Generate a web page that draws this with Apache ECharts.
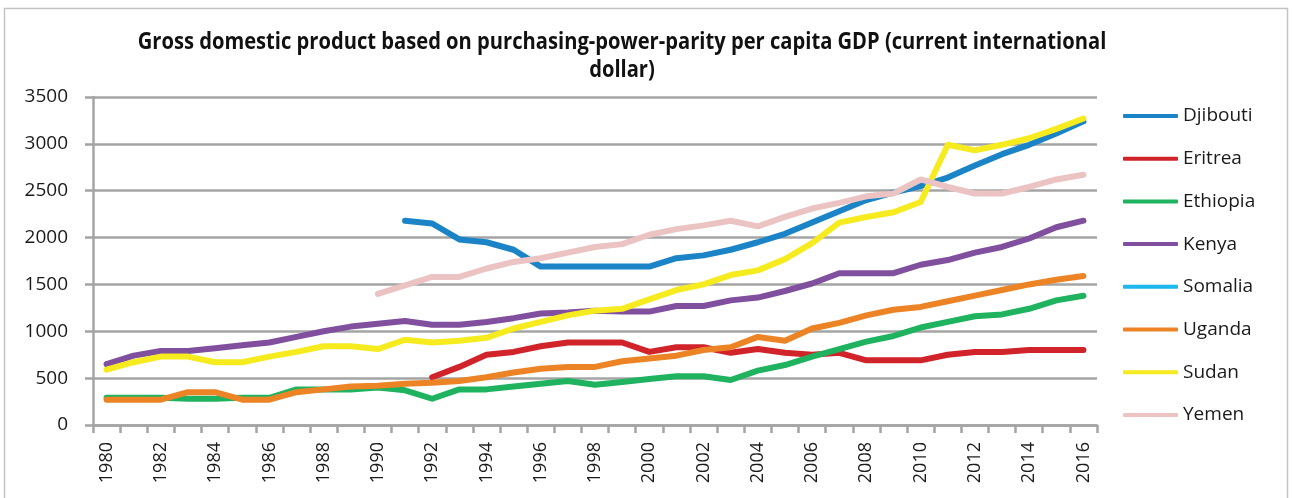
<!DOCTYPE html>
<html>
<head>
<meta charset="utf-8">
<script src="https://cdn.jsdelivr.net/npm/echarts@6/dist/echarts.min.js"></script>
<style>
html,body{margin:0;padding:0;background:#fff;}
#chart{width:1293px;height:498px;}
</style>
</head>
<body>
<div id="chart"></div>
<script>
var years = [];
for (var y = 1980; y <= 2016; y++) years.push(String(y));

var djibouti = [null,null,null,null,null,null,null,null,null,null,null,
  2180,2150,1980,1950,1870,1690,1690,1690,1690,1690,1780,1810,1870,1950,2040,2160,2280,2400,2480,2550,2640,2770,2890,2990,3110,3240];
var eritrea = [null,null,null,null,null,null,null,null,null,null,null,null,
  510,620,750,780,840,880,880,880,780,830,830,770,810,770,750,770,690,690,690,750,780,780,800,800,800];
var ethiopia = [290,290,290,280,280,290,290,380,380,380,400,370,280,380,380,410,440,470,430,460,490,520,520,480,580,640,730,810,890,950,1040,1100,1160,1180,1240,1330,1380];
var kenya = [650,740,790,790,820,850,880,940,1000,1050,1080,1110,1070,1070,1100,1140,1190,1200,1220,1210,1210,1270,1270,1330,1360,1430,1510,1620,1620,1620,1710,1760,1840,1900,1990,2110,2180];
var somalia = [];
var uganda = [270,270,270,350,350,270,270,350,380,410,420,440,450,470,510,560,600,620,620,680,710,740,800,830,940,900,1030,1090,1170,1230,1260,1320,1380,1440,1500,1550,1590];
var sudan = [590,670,730,730,670,670,730,780,840,840,810,910,880,900,930,1030,1100,1170,1220,1240,1340,1440,1500,1600,1650,1770,1940,2160,2220,2270,2380,2990,2930,2990,3060,3160,3270];
var yemen = [null,null,null,null,null,null,null,null,null,null,
  1400,1490,1580,1580,1670,1740,1780,1840,1900,1930,2030,2090,2130,2180,2120,2220,2310,2370,2440,2470,2620,2540,2470,2470,2540,2620,2670];

var seriesNames = ['Djibouti','Eritrea','Ethiopia','Kenya','Somalia','Uganda','Sudan','Yemen'];
var seriesData = [djibouti, eritrea, ethiopia, kenya, somalia, uganda, sudan, yemen];
var colors = ['#1b84c7','#d1232a','#1fb35f','#804f9e','#1cb8ec','#ec8426','#f6eb1f','#ecc3c3'];

var titleText = 'Gross domestic product based on purchasing-power-parity per capita GDP (current international\ndollar)';

var chart = echarts.init(document.getElementById('chart'), null, {renderer:'canvas'});
var gridColor = '#a4a4a4';
var textColor = '#1a1a1a';
var fontFam = '"Open Sans", "Noto Sans", sans-serif';

chart.setOption({
  animation: false,
  color: colors,
  graphic: [
    {type:'rect', silent:true, shape:{x:4.5, y:8.5, width:1283, height:500},
     style:{fill:'none', stroke:'#c4c4c4', lineWidth:1.5}},
    {type:'text', silent:true, x:622, y:56, scaleX:0.876, scaleY:1,
     style:{text:titleText, fontFamily:'"Open Sans", sans-serif', fontWeight:'bold', fontSize:23,
            lineHeight:28, align:'center', verticalAlign:'middle', fill:'#111'}}
  ],
  legend: {
    orient: 'vertical',
    left: 1118, top: 100,
    icon: 'roundRect',
    itemWidth: 55, itemHeight: 4,
    itemGap: 20.7,
    data: seriesNames,
    textStyle: {fontFamily: fontFam, fontSize: 19, color: textColor, lineHeight: 22}
  },
  grid: {left: 93, right: 196, top: 97, bottom: 73, containLabel: false},
  xAxis: {
    type: 'category',
    data: years,
    boundaryGap: true,
    axisLine: {lineStyle: {color: gridColor, width: 2.5}},
    axisTick: {show: true, length: 8, interval: 0, lineStyle: {color: gridColor, width: 2.5}},
    axisLabel: {interval: 1, rotate: 90, margin: 17, fontFamily: fontFam, fontSize: 18, color: textColor},
    splitLine: {show: false}
  },
  yAxis: {
    type: 'value',
    min: 0, max: 3500, interval: 500,
    axisLine: {show: true, lineStyle: {color: gridColor, width: 2.5}},
    axisTick: {show: true, length: 8, lineStyle: {color: gridColor, width: 2.5}},
    axisLabel: {margin: 25, fontFamily: fontFam, fontSize: 19, color: textColor,
                formatter: function(v){ return String(v); }},
    splitLine: {show: true, lineStyle: {color: gridColor, width: 2.5}}
  },
  series: seriesNames.map(function(n, i){
    return {
      name: n, type: 'line', data: seriesData[i],
      symbol: 'none', connectNulls: false,
      lineStyle: {width: 6, color: colors[i], cap: 'round', join: 'round'},
      itemStyle: {color: colors[i]}
    };
  })
});
</script>
</body>
</html>
